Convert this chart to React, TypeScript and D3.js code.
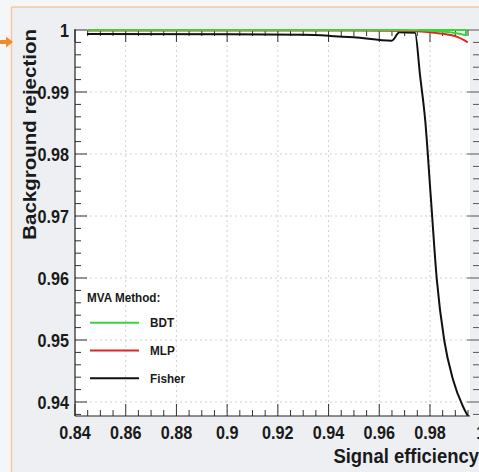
import React from 'react';
import * as d3 from 'd3';

const W = 479;
const H = 472;

// ---- data ----
const xMajorTicks = [0.84, 0.86, 0.88, 0.9, 0.92, 0.94, 0.96, 0.98, 1.0];
const xTickLabels = ['0.84', '0.86', '0.88', '0.9', '0.92', '0.94', '0.96', '0.98', '1'];
const yMajorTicks = [0.94, 0.95, 0.96, 0.97, 0.98, 0.99, 1.0];
const yTickLabels = ['0.94', '0.95', '0.96', '0.97', '0.98', '0.99', '1'];

const methods = ['BDT', 'MLP', 'Fisher'];
const methodColors = ['#3ad33a', '#e02525', '#111111'];

const bdtEff = [0.845, 0.9, 0.95, 0.97, 0.975, 0.98, 0.985, 0.988, 0.991, 0.9938, 0.9942, 0.9942, 0.975];
const bdtRej = [1.0, 1.0, 1.0, 1.0, 0.99997, 0.99989, 0.99975, 0.99963, 0.99945, 0.99919, 0.99915, 1.0, 1.0];

const mlpEff = [0.845, 0.88, 0.92, 0.95, 0.965, 0.975, 0.98, 0.985, 0.988, 0.991, 0.9938, 0.9949];
const mlpRej = [0.99992, 0.99992, 0.99991, 0.9999, 0.99988, 0.9998, 0.99963, 0.9994, 0.99919, 0.99885, 0.99828, 0.99802];

const fisherEff = [0.8447, 0.9, 0.93, 0.9406, 0.95, 0.9649, 0.968, 0.9741, 0.9761, 0.9781, 0.9804, 0.9827, 0.9856, 0.9891, 0.9931, 0.995];
const fisherRej = [0.99937, 0.99932, 0.99922, 0.99905, 0.99882, 0.99827, 0.99962, 0.99955, 0.9926, 0.9855, 0.9726, 0.9597, 0.95, 0.9436, 0.9392, 0.9377];

const series = [
  { eff: fisherEff, rej: fisherRej, color: methodColors[2], smooth: true },
  { eff: mlpEff, rej: mlpRej, color: methodColors[1], smooth: true },
  { eff: bdtEff, rej: bdtRej, color: methodColors[0], smooth: false },
];

// ---- layout ----
const left = 75;
const plotRight = 470;
const top = 30;
const bottom = 416;

const x = d3.scaleLinear().domain([0.84, 1.0]).range([left, 480.7]);
const y = d3.scaleLinear().domain([0.94, 1.0]).range([402, top]);

const font = '"Liberation Sans", Arial, Helvetica, sans-serif';
const txt = '#1a1a1a';

export default function App() {
  const xMinor = d3.range(0.84, 0.99501, 0.005).filter((v) => x(v) <= plotRight + 0.5);
  const yMinor = d3.range(0.938, 1.0001, 0.002).filter((v) => y(v) <= bottom && y(v) >= top - 0.5);
  const lineLinear = d3
    .line<[number, number]>()
    .x((d) => x(d[0]))
    .y((d) => y(d[1]));
  const lineSmooth = d3
    .line<[number, number]>()
    .x((d) => x(d[0]))
    .y((d) => y(d[1]))
    .curve(d3.curveMonotoneX);

  const isMajor = (v: number, step: number) => Math.abs(v / step - Math.round(v / step)) < 1e-6;

  return (
    <svg
      width={W}
      height={H}
      style={{ position: 'absolute', left: 0, top: 0, display: 'block' }}
      fontFamily={font}
    >
      <defs>
        <clipPath id="plotclip">
          <rect x={left} y={top - 3} width={plotRight - left + 1} height={bottom - top + 3} />
        </clipPath>
      </defs>
      {/* backgrounds */}
      <rect x={0} y={0} width={W} height={H} fill="#f5f6f8" />
      <rect x={11.5} y={7} width={W} height={H} fill="#edeff2" />
      <line x1={11.5} y1={7} x2={11.5} y2={H} stroke="#f2c9a6" strokeWidth={1.5} />
      <line x1={11.5} y1={7} x2={W} y2={7} stroke="#f2c9a6" strokeWidth={1.5} />
      <polygon points="0,40 6,40 6,36.5 13,42 6,47.5 6,44 0,44" fill="#f28a2e" />

      {/* plot area */}
      <rect x={left} y={top} width={plotRight - left} height={bottom - top} fill="#ffffff" />

      {/* grid */}
      {xMajorTicks
        .filter((v) => x(v) > left + 1 && x(v) < plotRight)
        .map((v) => (
          <line key={'gx' + v} x1={x(v)} x2={x(v)} y1={top} y2={bottom} stroke="#c4c4c4" strokeWidth={0.8} strokeDasharray="2,3" />
        ))}
      {yMajorTicks
        .filter((v) => y(v) < bottom - 1 && y(v) > top + 1)
        .map((v) => (
          <line key={'gy' + v} x1={left} x2={plotRight} y1={y(v)} y2={y(v)} stroke="#c4c4c4" strokeWidth={0.8} strokeDasharray="2,3" />
        ))}

      {/* ticks */}
      {xMinor.map((v) => {
        const len = isMajor(v, 0.02) ? 12 : 6;
        return (
          <g key={'tx' + v}>
            <line x1={x(v)} x2={x(v)} y1={bottom} y2={bottom - len} stroke="#333" strokeWidth={1} />
            <line x1={x(v)} x2={x(v)} y1={top} y2={top + len} stroke="#333" strokeWidth={1} />
          </g>
        );
      })}
      {yMinor.map((v) => {
        const len = isMajor(v, 0.01) ? 12 : 6;
        return (
          <g key={'ty' + v}>
            <line x1={left} x2={left + len} y1={y(v)} y2={y(v)} stroke="#333" strokeWidth={1} />
            <line x1={479} x2={479 - len} y1={y(v)} y2={y(v)} stroke="#555" strokeWidth={1} />
          </g>
        );
      })}

      {/* curves */}
      <g clipPath="url(#plotclip)">
        {series.map((s, i) => {
          const pts = s.eff.map((e, j) => [e, s.rej[j]] as [number, number]);
          return (
            <path
              key={'s' + i}
              d={(s.smooth ? lineSmooth(pts) : lineLinear(pts)) || ''}
              fill="none"
              stroke={s.color}
              strokeWidth={2}
              strokeLinejoin="round"
            />
          );
        })}
      </g>

      {/* axes lines */}
      <line x1={left} x2={left} y1={top - 1} y2={bottom} stroke="#222" strokeWidth={1.2} />
      <line x1={left} x2={plotRight} y1={bottom} y2={bottom} stroke="#222" strokeWidth={1.2} />

      {/* tick labels */}
      {xMajorTicks.map((v, i) => (
        <text
          key={'lx' + v}
          transform={`translate(${x(v)},438.5) scale(0.9,1)`}
          textAnchor="middle"
          fontSize={18}
          fontWeight="bold"
          fill={txt}
        >
          {xTickLabels[i]}
        </text>
      ))}
      {yMajorTicks.map((v, i) => (
        <text
          key={'ly' + v}
          transform={`translate(69,${y(v) + 6.5}) scale(0.9,1)`}
          textAnchor="end"
          fontSize={18}
          fontWeight="bold"
          fill={txt}
        >
          {yTickLabels[i]}
        </text>
      ))}

      {/* axis titles */}
      <text
        transform="translate(479,462.5) scale(0.9,1)"
        textAnchor="end"
        fontSize={20.5}
        fontWeight="bold"
        fill={txt}
      >
        Signal efficiency
      </text>
      <text
        transform="translate(36,29) rotate(-90) scale(1,0.9)"
        textAnchor="end"
        fontSize={20.5}
        fontWeight="bold"
        fill={txt}
      >
        Background rejection
      </text>

      {/* legend */}
      <text transform="translate(87,302) scale(0.9,1)" fontSize={13} fontWeight="bold" fill={txt}>
        MVA Method:
      </text>
      {methods.map((m, i) => {
        const ly = 322.7 + i * 27.8;
        return (
          <g key={'lg' + m}>
            <line x1={90} x2={139} y1={ly} y2={ly} stroke={methodColors[i]} strokeWidth={2} />
            <text transform={`translate(150,${ly + 4.7}) scale(0.9,1)`} fontSize={13} fontWeight="bold" fill={txt}>
              {m}
            </text>
          </g>
        );
      })}
    </svg>
  );
}
